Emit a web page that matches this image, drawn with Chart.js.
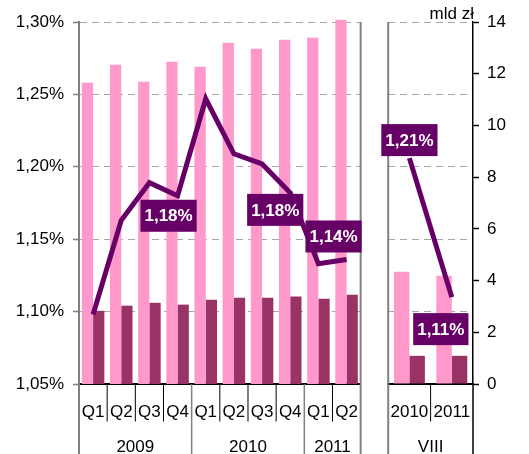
<!DOCTYPE html>
<html>
<head>
<meta charset="utf-8">
<script src="https://cdn.jsdelivr.net/npm/chart.js@4.4.0/dist/chart.umd.min.js"></script>
<style>
  html, body { margin: 0; padding: 0; background: #fff; }
  #wrap { position: relative; width: 529px; height: 454px; overflow: hidden; }
  #quarters { position: absolute; left: 0; top: 0; }
  #august { position: absolute; left: 370px; top: 0; }
</style>
</head>
<body>
<div id="wrap">
  <canvas id="quarters" width="376" height="454"></canvas>
  <canvas id="august" width="159" height="454"></canvas>
</div>
<script>
// quarterly series, Q1 2009 - Q2 2011
const quarterLabels = ['Q1', 'Q2', 'Q3', 'Q4', 'Q1', 'Q2', 'Q3', 'Q4', 'Q1', 'Q2'];
const yearLabels = ['2009', '2010', '2011'];
const yearSpans = [4, 4, 2];
const volumeQ = [11.65, 12.35, 11.69, 12.46, 12.27, 13.2, 12.97, 13.31, 13.39, 14.09];
const otherQ = [2.83, 3.03, 3.14, 3.07, 3.26, 3.34, 3.34, 3.38, 3.3, 3.45];
const rateQ = [1.098, 1.163, 1.189, 1.180, 1.247, 1.209, 1.202, 1.182, 1.133, 1.136];

// August (VIII) comparison
const augLabels = ['2010', '2011'];
const augGroup = ['VIII'];
const augSpans = [2];
const volumeAug = [4.34, 4.19];
const otherAug = [1.09, 1.09];
const rateAug = [1.206, 1.110];

// axes
const pctTicks = [1.05, 1.10, 1.15, 1.20, 1.25, 1.30];
const bnTicks = [0, 2, 4, 6, 8, 10, 12, 14];
const unitLabel = 'mld zł';

// value callouts (index into the rate series)
const calloutQIdx = [3, 7, 9];
const calloutQText = ['1,18%', '1,18%', '1,14%'];
const calloutAugIdx = [0, 1];
const calloutAugText = ['1,21%', '1,11%'];

const PINK = '#FF99CC';
const DARK = '#993366';
const LINE = '#660066';
const FONT = '"Liberation Sans", Arial, sans-serif';

Chart.defaults.font.family = FONT;
Chart.defaults.font.size = 17;
Chart.defaults.color = '#000';

function vline(ctx, x, y1, y2, color, width) {
  ctx.save();
  ctx.strokeStyle = color;
  ctx.lineWidth = width;
  ctx.beginPath();
  ctx.moveTo(x, y1);
  ctx.lineTo(x, y2);
  ctx.stroke();
  ctx.restore();
}

// separators under the x axis + group labels (years / VIII)
function drawCategoryFrame(ctx, a, x, H, groups, spans) {
  const n = x.getLabels().length;
  const edge = i => i <= 0 ? a.left : i >= n ? a.right
    : (x.getPixelForValue(i - 1) + x.getPixelForValue(i)) / 2;
  const bounds = [];
  let c = 0;
  spans.forEach(s => { c += s; bounds.push(c); });
  for (let i = 1; i < n; i++) {
    const long = bounds.includes(i);
    vline(ctx, edge(i), a.bottom, long ? H : a.bottom + 37.5, long ? '#808080' : '#000', long ? 1.5 : 1);
  }
  ctx.save();
  ctx.fillStyle = '#000';
  ctx.font = '17px ' + FONT;
  ctx.textAlign = 'center';
  ctx.textBaseline = 'middle';
  let start = 0;
  spans.forEach((s, g) => {
    ctx.fillText(groups[g], (edge(start) + edge(start + s)) / 2, a.bottom + 63);
    start += s;
  });
  ctx.restore();
}

function calloutPlugin(idx, texts, offsets) {
  return {
    id: 'callouts',
    afterDatasetsDraw(chart) {
      const pts = chart.getDatasetMeta(0).data;
      const ctx = chart.ctx;
      ctx.save();
      ctx.font = 'bold 17px ' + FONT;
      ctx.textAlign = 'center';
      ctx.textBaseline = 'middle';
      idx.forEach((k, j) => {
        const p = pts[k];
        const cx = p.x + offsets[j][0];
        const cy = p.y + offsets[j][1];
        const w = ctx.measureText(texts[j]).width + 8;
        const h = 32;
        ctx.fillStyle = LINE;
        ctx.fillRect(cx - w / 2, cy - h / 2, w, h);
        ctx.fillStyle = '#fff';
        ctx.fillText(texts[j], cx, cy + 1);
      });
      ctx.restore();
    }
  };
}

const pctAxis = {
  min: 1.05, max: 1.30,
  afterBuildTicks: s => { s.ticks = pctTicks.map(v => ({ value: v })); },
  grid: { color: '#A6A6A6', lineWidth: 1, tickLength: 6, tickColor: '#808080', tickWidth: 1.5, tickBorderDash: [] },
  border: { color: '#808080', width: 2, dash: [7, 5] }
};

const xAxis = {
  grid: { display: true, drawOnChartArea: false, drawTicks: false },
  border: { color: '#000', width: 2 },
  ticks: { padding: 18, maxRotation: 0, autoSkip: false }
};

function lineSet(data) {
  return {
    type: 'line', data, yAxisID: 'y', order: 0,
    borderColor: LINE, borderWidth: 5, pointRadius: 0,
    tension: 0, fill: false, clip: false,
    borderJoinStyle: 'miter', borderCapStyle: 'butt'
  };
}

function barSet(data, color, catPct) {
  return {
    type: 'bar', data, yAxisID: 'yR', order: 1,
    backgroundColor: color, borderWidth: 0, clip: false,
    categoryPercentage: catPct, barPercentage: 1
  };
}

new Chart(document.getElementById('quarters'), {
  type: 'bar',
  data: {
    labels: quarterLabels,
    datasets: [
      lineSet(rateQ),
      barSet(volumeQ, PINK, 0.8),
      barSet(otherQ, DARK, 0.8)
    ]
  },
  options: {
    responsive: false,
    animation: false,
    layout: { padding: { left: 0, right: 2, top: 22, bottom: 0 } },
    plugins: { legend: { display: false }, tooltip: { enabled: false } },
    scales: {
      x: Object.assign({}, xAxis, { afterFit: s => { s.height = 70; } }),
      y: Object.assign({}, pctAxis, {
        position: 'left',
        afterFit: s => { s.width = 79; },
        ticks: { padding: 9, callback: v => v.toFixed(2).replace('.', ',') + '%' }
      }),
      yR: { display: false, position: 'right', min: 0, max: 14 }
    }
  },
  plugins: [
    {
      id: 'frame',
      afterDatasetsDraw(chart) {
        const { ctx, chartArea: a, scales: { x } } = chart;
        drawCategoryFrame(ctx, a, x, chart.height, yearLabels, yearSpans);
        vline(ctx, a.left, a.top, chart.height, '#808080', 2);
        vline(ctx, a.right, a.top, chart.height, '#808080', 2);
      }
    },
    calloutPlugin(calloutQIdx, calloutQText, [[-9, 20], [-15, 17], [-13, -23]])
  ]
});

new Chart(document.getElementById('august'), {
  type: 'bar',
  data: {
    labels: augLabels,
    datasets: [
      lineSet(rateAug),
      barSet(volumeAug, PINK, 0.73),
      barSet(otherAug, DARK, 0.73)
    ]
  },
  options: {
    responsive: false,
    animation: false,
    layout: { padding: { left: 10, right: 0, top: 22, bottom: 0 } },
    plugins: { legend: { display: false }, tooltip: { enabled: false } },
    scales: {
      x: Object.assign({}, xAxis, { afterFit: s => { s.height = 70; } }),
      y: Object.assign({}, pctAxis, {
        position: 'left',
        afterFit: s => { s.width = 0; },
        ticks: { display: false },
        grid: Object.assign({}, pctAxis.grid, { drawTicks: false }),
        border: { display: false, dash: [7, 5] }
      }),
      yR: {
        position: 'right', min: 0, max: 14,
        afterBuildTicks: s => { s.ticks = bnTicks.map(v => ({ value: v })); },
        afterFit: s => { s.width = 56; },
        ticks: { padding: 8 },
        grid: { drawOnChartArea: false, tickLength: 6, tickColor: '#000', tickWidth: 1.5 },
        border: { color: '#000', width: 1.5 }
      }
    }
  },
  plugins: [
    {
      id: 'frame',
      afterDatasetsDraw(chart) {
        const { ctx, chartArea: a, scales: { x } } = chart;
        drawCategoryFrame(ctx, a, x, chart.height, augGroup, augSpans);
        vline(ctx, a.left, a.top, chart.height, '#808080', 2);
        vline(ctx, a.right, a.bottom, chart.height, '#000', 1.5);
        ctx.save();
        ctx.fillStyle = '#000';
        ctx.font = '17px ' + FONT;
        ctx.textAlign = 'right';
        ctx.textBaseline = 'middle';
        ctx.fillText(unitLabel, a.right + 1, 14);
        ctx.restore();
      }
    },
    calloutPlugin(calloutAugIdx, calloutAugText, [[0, -18], [-11, 32]])
  ]
});
</script>
</body>
</html>
